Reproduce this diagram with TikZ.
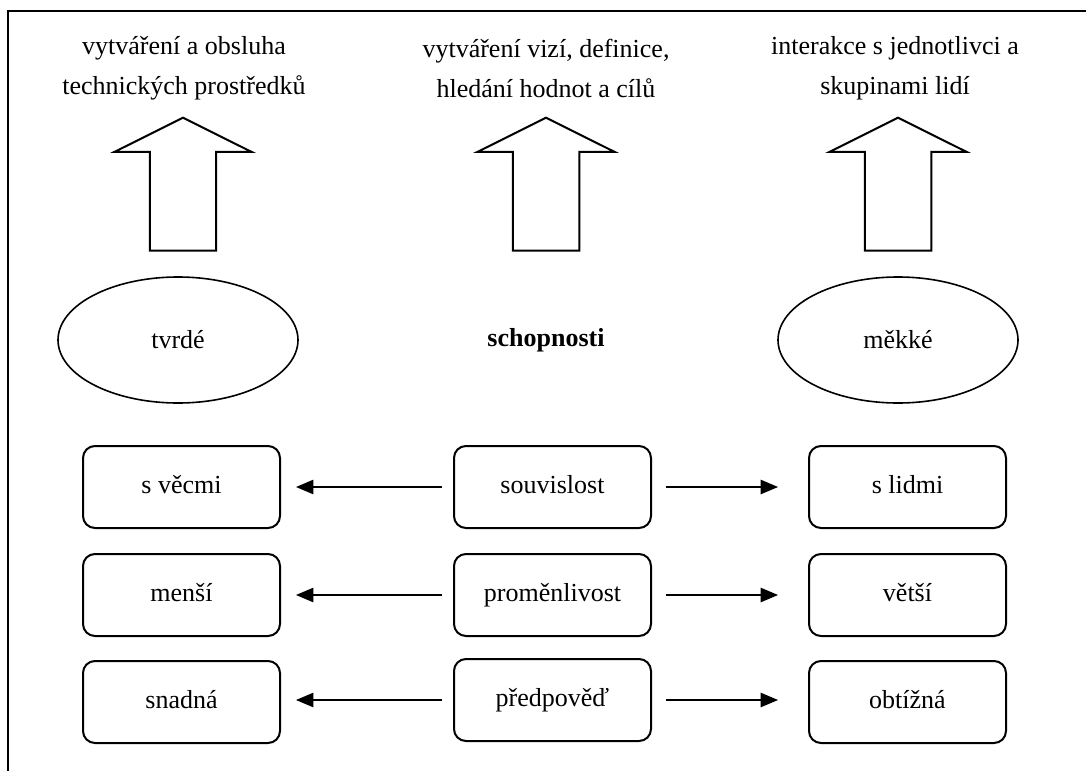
\documentclass[tikz,border=0pt]{standalone}
\usepackage{fontspec}
\setmainfont{Liberation Serif}
\usetikzlibrary{arrows, shapes.geometric, shapes.arrows}

\begin{document}
\begin{tikzpicture}[x=0.5pt, y=-0.5pt, every text node part/.style={align=center}, font=\fontsize{13}{20}\selectfont]

\tikzstyle{box}=[draw, line width=1pt, rounded corners=6pt, minimum width=98.5pt, minimum height=41pt, text height=9pt, text depth=3pt]
\tikzstyle{oval}=[draw, line width=0.8pt, ellipse, minimum width=120pt, minimum height=63pt, inner sep=0pt]
\tikzstyle{up}=[draw, line width=1pt, single arrow, rotate=90, minimum height=66.5pt, minimum width=68.5pt, single arrow head extend=17.5pt, single arrow tip angle=127, inner xsep=0pt, inner ysep=16pt]
\tikzstyle{arr}=[draw, line width=1pt, -triangle 45]

\useasboundingbox (0,0) rectangle (1086,771);
\draw [line width=1pt] (8,771) -- (8,11) -- (1086,11);

\node (t1) at (184, 68) {vytváření a obsluha\\technických prostředků};
\node (t2) at (546, 68) {vytváření vizí, definice,\\hledání hodnot a cílů};
\node (t3) at (895, 68) {interakce s jednotlivci a\\skupinami lidí};

\node (u1) [up] at (183, 192.5) {};
\node (u2) [up] at (546, 192.5) {};
\node (u3) [up] at (898, 192.5) {};

\node (e1) [oval] at (178, 340) {tvrdé};
\node (e2) at (546, 340) {\textbf{schopnosti}};
\node (e3) [oval] at (898, 340) {měkké};

\node (l1) [box] at (181.5, 487) {s věcmi};
\node (l2) [box] at (181.5, 595) {menší};
\node (l3) [box] at (181.5, 702) {snadná};

\node (m1) [box] at (552.5, 487) {souvislost};
\node (m2) [box] at (552.5, 595) {proměnlivost};
\node (m3) [box] at (552.5, 700) {předpověď};

\node (r1) [box] at (907.5, 487) {s lidmi};
\node (r2) [box] at (907.5, 595) {větší};
\node (r3) [box] at (907.5, 702) {obtížná};

\path [arr, shorten <=5.5pt, shorten >=7.5pt] (m1.west) -- (l1.east);
\path [arr, shorten <=5.5pt, shorten >=7.5pt] (m2.west) -- (l2.east);
\path [arr, shorten <=5.5pt, shorten >=7.5pt] (m3.west) -- (l3.east |- m3.west);

\path [arr, shorten <=7pt, shorten >=15pt] (m1.east) -- (r1.west);
\path [arr, shorten <=7pt, shorten >=15pt] (m2.east) -- (r2.west);
\path [arr, shorten <=7pt, shorten >=15pt] (m3.east) -- (r3.west |- m3.east);

\end{tikzpicture}
\end{document}
